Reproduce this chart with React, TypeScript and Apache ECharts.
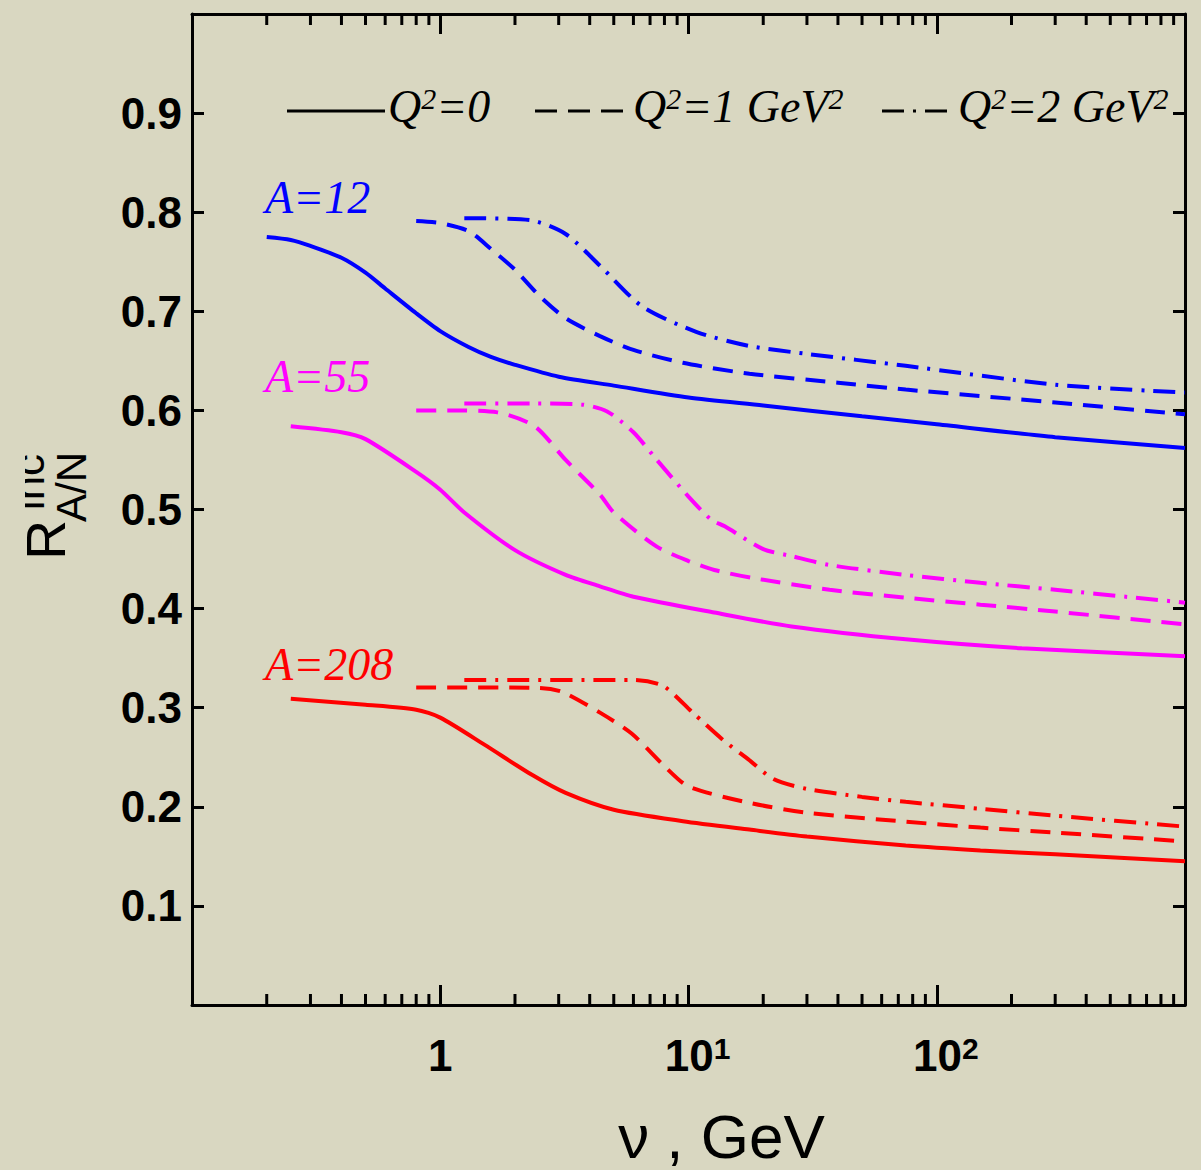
import React, { useEffect, useRef } from "react";
import * as echarts from "echarts";

// ---- data (nu in GeV, ratio R) ----
const nuA12Q0 = [0.2, 0.25, 0.3, 0.4, 0.5, 0.6, 0.8, 1, 1.3, 1.6, 2, 3, 5, 10, 20, 50, 100, 300, 1000];
const rA12Q0 = [0.775, 0.772, 0.766, 0.754, 0.739, 0.723, 0.698, 0.68, 0.664, 0.654, 0.646, 0.634, 0.625, 0.613, 0.605, 0.594, 0.586, 0.573, 0.562];

const nuA12Q1 = [0.8, 1, 1.3, 1.6, 2, 2.5, 3.2, 4.4, 6, 9.5, 17.6, 40, 75, 300, 1000];
const rA12Q1 = [0.791, 0.789, 0.781, 0.763, 0.742, 0.716, 0.693, 0.675, 0.661, 0.648, 0.637, 0.628, 0.621, 0.608, 0.596];

const nuA12Q2 = [1.25, 2.3, 3.2, 4.4, 6.5, 10.8, 17.6, 30, 75, 300, 1000];
const rA12Q2 = [0.794, 0.792, 0.778, 0.746, 0.705, 0.679, 0.665, 0.657, 0.645, 0.626, 0.618];

const nuA55Q0 = [0.25, 0.4, 0.5, 0.8, 1, 1.25, 2, 3.2, 4.4, 6, 12.7, 26, 75, 220, 1000];
const rA55Q0 = [0.584, 0.578, 0.571, 0.538, 0.52, 0.497, 0.459, 0.434, 0.4225, 0.412, 0.396, 0.382, 0.369, 0.36, 0.352];

const nuA55Q1 = [0.8, 1.1, 1.7, 2.4, 3.2, 4.4, 5, 7.4, 10, 12.7, 18, 37, 75, 150, 300, 1000];
const rA55Q1 = [0.6, 0.6, 0.598, 0.584, 0.55, 0.515, 0.497, 0.463, 0.448, 0.439, 0.431, 0.419, 0.411, 0.404, 0.397, 0.384];

const nuA55Q2 = [1.25, 2.4, 3.7, 4.7, 6, 7.4, 10, 12.3, 14, 20, 26, 37, 75, 150, 300, 630, 1000];
const rA55Q2 = [0.607, 0.607, 0.606, 0.599, 0.578, 0.551, 0.513, 0.49, 0.483, 0.46, 0.453, 0.444, 0.434, 0.426, 0.419, 0.411, 0.406];

const nuA208Q0 = [0.25, 0.5, 0.8, 1, 1.5, 2.35, 3.2, 5, 9.5, 17.6, 30, 75, 150, 300, 1000];
const rA208Q0 = [0.309, 0.303, 0.298, 0.29, 0.263, 0.232, 0.214, 0.197, 0.1855, 0.177, 0.17, 0.161, 0.156, 0.152, 0.145];

const nuA208Q1 = [0.8, 2.5, 3.1, 4.4, 5.9, 8, 10, 17.6, 30, 75, 150, 300, 1000];
const rA208Q1 = [0.3205, 0.32, 0.316, 0.295, 0.274, 0.241, 0.2205, 0.204, 0.194, 0.185, 0.179, 0.174, 0.165];

const nuA208Q2 = [1.25, 6, 7.9, 10.4, 13.7, 17.6, 22, 30, 50, 75, 150, 300, 1000];
const rA208Q2 = [0.328, 0.328, 0.322, 0.295, 0.268, 0.247, 0.228, 0.218, 0.21, 0.205, 0.198, 0.191, 0.18];

const minorTicks = [
  0.2, 0.3, 0.4, 0.5, 0.6, 0.7, 0.8, 0.9,
  2, 3, 4, 5, 6, 7, 8, 9,
  20, 30, 40, 50, 60, 70, 80, 90,
  200, 300, 400, 500, 600, 700, 800, 900,
];

const legendLabels = ["{q|Q}{s|2}{q|=0}", "{q|Q}{s|2}{q|=1 GeV}{s|2}", "{q|Q}{s|2}{q|=2 GeV}{s|2}"];
const nucleusLabels = ["A=12", "A=55", "A=208"];

const BG = "#d9d7c1";
const SANS = "'Liberation Sans', Arial, sans-serif";
const SERIF = "'Liberation Serif', 'Times New Roman', serif";
const BLUE = "#0000ff";
const MAGENTA = "#ff00ff";
const RED = "#ff0000";
const DASH = [20, 11];
const DASHDOT = [22, 9, 3, 9];

const zip = (xs: number[], ys: number[]) => xs.map((x, i) => [x, ys[i]]);

const lineSeries = (name: string, xs: number[], ys: number[], color: string, type: any) => ({
  name,
  type: "line",
  xAxisIndex: 0,
  yAxisIndex: 0,
  data: zip(xs, ys),
  symbol: "none",
  showSymbol: false,
  smooth: 0.25,
  lineStyle: { color, width: 4, type },
  silent: true,
  z: 3,
});

const legendRich = {
  q: { fontFamily: SERIF, fontStyle: "italic", fontSize: 46, color: "#000" },
  s: { fontFamily: SERIF, fontStyle: "italic", fontSize: 30, color: "#000", verticalAlign: "top" },
};

export default function App() {
  const ref = useRef<HTMLDivElement>(null);

  useEffect(() => {
    if (!ref.current) return;
    const chart = echarts.init(ref.current, null, { renderer: "svg" });

    const axisLine = { show: true, onZero: false, lineStyle: { color: "#000", width: 3 } };

    const option: any = {
      animation: false,
      backgroundColor: BG,
      grid: { left: 192, right: 16, top: 14, bottom: 165, containLabel: false, outerBoundsMode: "none" },
      xAxis: [
        {
          type: "log",
          logBase: 10,
          min: 0.1,
          max: 1000,
          position: "bottom",
          gridIndex: 0,
          axisLine,
          axisTick: { show: true, inside: true, length: 20, lineStyle: { color: "#000", width: 3 } },
          splitLine: { show: false },
          minorTick: { show: false },
          axisLabel: {
            show: true,
            margin: 28,
            formatter: (v: number) => {
              if (Math.abs(v - 1) < 1e-9) return "{b|1}";
              if (Math.abs(v - 10) < 1e-6) return "{p|10}{s|1}";
              if (Math.abs(v - 100) < 1e-5) return "{p|10}{s|2}";
              return "";
            },
            rich: {
              b: { fontFamily: SANS, fontWeight: "bold", fontSize: 44, lineHeight: 44, color: "#000", verticalAlign: "bottom" },
              p: { fontFamily: SANS, fontWeight: "bold", fontSize: 44, lineHeight: 44, color: "#000", verticalAlign: "bottom", padding: [0, 0, 0, 18] },
              s: { fontFamily: SANS, fontWeight: "bold", fontSize: 30, lineHeight: 30, color: "#000", verticalAlign: "top" },
            },
          },
          name: "ν , GeV",
          nameLocation: "middle",
          nameGap: 100,
          nameTextStyle: { fontFamily: SANS, fontSize: 62, lineHeight: 62, color: "#000", padding: [0, 0, 0, 66] },
        },
        {
          type: "log",
          logBase: 10,
          min: 0.1,
          max: 1000,
          position: "top",
          gridIndex: 0,
          axisLine,
          axisTick: { show: true, inside: true, length: 20, lineStyle: { color: "#000", width: 3 } },
          splitLine: { show: false },
          axisLabel: { show: false },
        },
      ],
      yAxis: [
        {
          type: "value",
          min: 0,
          max: 1,
          interval: 0.1,
          position: "left",
          gridIndex: 0,
          axisLine,
          axisTick: { show: true, inside: true, length: 12, lineStyle: { color: "#000", width: 3 } },
          splitLine: { show: false },
          axisLabel: {
            show: true,
            margin: 10,
            fontFamily: SANS,
            fontWeight: "bold",
            fontSize: 44,
            color: "#000",
            formatter: (v: number) => (v < 0.05 || v > 0.95 ? "" : v.toFixed(1)),
          },
        },
        {
          type: "value",
          min: 0,
          max: 1,
          interval: 0.1,
          position: "right",
          gridIndex: 0,
          axisLine,
          axisTick: { show: true, inside: true, length: 12, lineStyle: { color: "#000", width: 3 } },
          splitLine: { show: false },
          axisLabel: { show: false },
        },
      ],
      series: [
        lineSeries("A12 Q0", nuA12Q0, rA12Q0, BLUE, "solid"),
        lineSeries("A12 Q1", nuA12Q1, rA12Q1, BLUE, DASH),
        lineSeries("A12 Q2", nuA12Q2, rA12Q2, BLUE, DASHDOT),
        lineSeries("A55 Q0", nuA55Q0, rA55Q0, MAGENTA, "solid"),
        lineSeries("A55 Q1", nuA55Q1, rA55Q1, MAGENTA, DASH),
        lineSeries("A55 Q2", nuA55Q2, rA55Q2, MAGENTA, DASHDOT),
        lineSeries("A208 Q0", nuA208Q0, rA208Q0, RED, "solid"),
        lineSeries("A208 Q1", nuA208Q1, rA208Q1, RED, DASH),
        lineSeries("A208 Q2", nuA208Q2, rA208Q2, RED, DASHDOT),
        {
          type: "custom",
          name: "minor ticks",
          xAxisIndex: 0,
          yAxisIndex: 0,
          silent: true,
          clip: false,
          data: minorTicks.map((v) => [v, 0]),
          encode: { x: 0, y: 1 },
          renderItem: (params: any, api: any) => {
            const v = api.value(0);
            const pb = api.coord([v, 0]);
            const pt = api.coord([v, 1]);
            const st = { stroke: "#000", lineWidth: 3 };
            return {
              type: "group",
              children: [
                { type: "line", shape: { x1: pb[0], y1: pb[1], x2: pb[0], y2: pb[1] - 11 }, style: st },
                { type: "line", shape: { x1: pt[0], y1: pt[1], x2: pt[0], y2: pt[1] + 11 }, style: st },
              ],
            };
          },
          z: 2,
        },
      ],
      graphic: [
        // legend samples
        { type: "line", shape: { x1: 287, y1: 111, x2: 385, y2: 111 }, style: { stroke: "#000", lineWidth: 3 } },
        { type: "line", shape: { x1: 535, y1: 111, x2: 630, y2: 111 }, style: { stroke: "#000", lineWidth: 3, lineDash: [22, 11] } },
        { type: "line", shape: { x1: 882, y1: 111, x2: 955, y2: 111 }, style: { stroke: "#000", lineWidth: 3, lineDash: [22, 9, 3, 9] } },
        { type: "text", x: 388, y: 106, style: { text: legendLabels[0], rich: legendRich, align: "left", verticalAlign: "middle" } },
        { type: "text", x: 633, y: 106, style: { text: legendLabels[1], rich: legendRich, align: "left", verticalAlign: "middle" } },
        { type: "text", x: 958, y: 106, style: { text: legendLabels[2], rich: legendRich, align: "left", verticalAlign: "middle" } },
        // nucleus labels
        { type: "text", x: 265, y: 197, style: { text: nucleusLabels[0], font: `italic 46px ${SERIF}`, fill: BLUE, align: "left", verticalAlign: "middle" } },
        { type: "text", x: 265, y: 376, style: { text: nucleusLabels[1], font: `italic 46px ${SERIF}`, fill: MAGENTA, align: "left", verticalAlign: "middle" } },
        { type: "text", x: 265, y: 664, style: { text: nucleusLabels[2], font: `italic 46px ${SERIF}`, fill: RED, align: "left", verticalAlign: "middle" } },
        // y-axis title  R^inc_{A/N}
        { type: "text", x: 46, y: 540, rotation: Math.PI / 2, style: { text: "R", font: `55px ${SANS}`, fill: "#000", align: "center", verticalAlign: "middle" } },
        { type: "text", x: 71, y: 487, rotation: Math.PI / 2, style: { text: "A/N", font: `42px ${SANS}`, fill: "#000", align: "center", verticalAlign: "middle" } },
        { type: "text", x: 28, y: 482, rotation: Math.PI / 2, style: { text: "inc", font: `44px ${SANS}`, fill: "#000", align: "center", verticalAlign: "middle" } },
        { type: "rect", shape: { x: 0, y: 430, width: 25, height: 95 }, style: { fill: BG }, z: 100 },
      ],
    };

    chart.setOption(option);
    return () => chart.dispose();
  }, []);

  return <div ref={ref} style={{ position: "fixed", left: 0, top: 0, width: 1201, height: 1170 }} />;
}
